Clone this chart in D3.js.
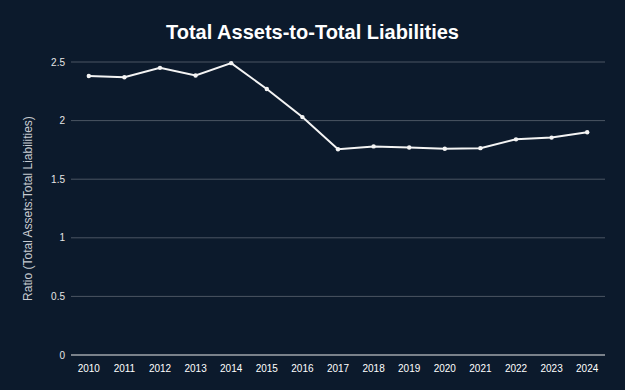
<!DOCTYPE html>
<html>
<head>
<meta charset="utf-8">
<script src="https://cdn.jsdelivr.net/npm/d3@7"></script>
<style>
  body { margin: 0; background: #0c1a2c; }
  svg { display: block; font-family: "Liberation Sans", Arial, sans-serif; }
</style>
</head>
<body>
<svg id="chart" width="625" height="390"></svg>
<script>
// data
const years = ["2010","2011","2012","2013","2014","2015","2016","2017","2018","2019","2020","2021","2022","2023","2024"];
const ratios = [2.38, 2.37, 2.45, 2.385, 2.49, 2.27, 2.03, 1.755, 1.78, 1.77, 1.76, 1.765, 1.84, 1.855, 1.90];
const yTicks = [0, 0.5, 1, 1.5, 2, 2.5];

const margin = {top: 62, right: 20, bottom: 35, left: 71};
const width = 625, height = 390;

const svg = d3.select("#chart");

svg.append("rect")
    .attr("width", width)
    .attr("height", height)
    .attr("fill", "#0c1a2c");

let x = d3.scalePoint()
    .domain(years)
    .range([margin.left, width - margin.right])
    .padding(0.5);

let y = d3.scaleLinear()
    .domain([0, 2.5])
    .range([height - margin.bottom, margin.top]);

// gridlines
svg.append("g")
    .selectAll("line")
    .data(yTicks.filter(d => d > 0))
    .enter().append("line")
    .attr("x1", margin.left)
    .attr("x2", width - margin.right)
    .attr("y1", d => y(d))
    .attr("y2", d => y(d))
    .attr("stroke", "#4b5563")
    .attr("stroke-width", 1);

// zero line
svg.append("line")
    .attr("x1", margin.left)
    .attr("x2", width - margin.right)
    .attr("y1", y(0))
    .attr("y2", y(0))
    .attr("stroke", "#e8e8e8")
    .attr("stroke-width", 1);

// y tick labels
svg.append("g")
    .selectAll("text")
    .data(yTicks)
    .enter().append("text")
    .attr("x", margin.left - 6)
    .attr("y", d => y(d))
    .attr("dy", "0.35em")
    .attr("text-anchor", "end")
    .attr("fill", "#e6e6e6")
    .style("font-size", "10px")
    .text(d => d);

// x tick labels
svg.append("g")
    .selectAll("text")
    .data(years)
    .enter().append("text")
    .attr("x", d => x(d))
    .attr("y", y(0) + 13)
    .attr("dy", "0.35em")
    .attr("text-anchor", "middle")
    .attr("fill", "#ffffff")
    .style("font-size", "10px")
    .text(d => d);

// line
let line = d3.line()
    .x((d, i) => x(years[i]))
    .y(d => y(d));

svg.append("path")
    .datum(ratios)
    .attr("d", line)
    .attr("fill", "none")
    .attr("stroke", "#f4f4f4")
    .attr("stroke-width", 2);

svg.append("g")
    .selectAll("circle")
    .data(ratios)
    .enter().append("circle")
    .attr("cx", (d, i) => x(years[i]))
    .attr("cy", d => y(d))
    .attr("r", 2.2)
    .attr("fill", "#f4f4f4");

// title
svg.append("text")
    .attr("x", width / 2)
    .attr("y", 39)
    .attr("text-anchor", "middle")
    .attr("fill", "#ffffff")
    .style("font-size", "20px")
    .style("font-weight", "bold")
    .text("Total Assets-to-Total Liabilities");

// y axis label
svg.append("text")
    .attr("transform", "translate(32," + ((margin.top + height - margin.bottom) / 2) + ") rotate(-90)")
    .attr("text-anchor", "middle")
    .attr("fill", "#c8ccd2")
    .style("font-size", "12px")
    .text("Ratio (Total Assets:Total Liabilities)");
</script>
</body>
</html>
